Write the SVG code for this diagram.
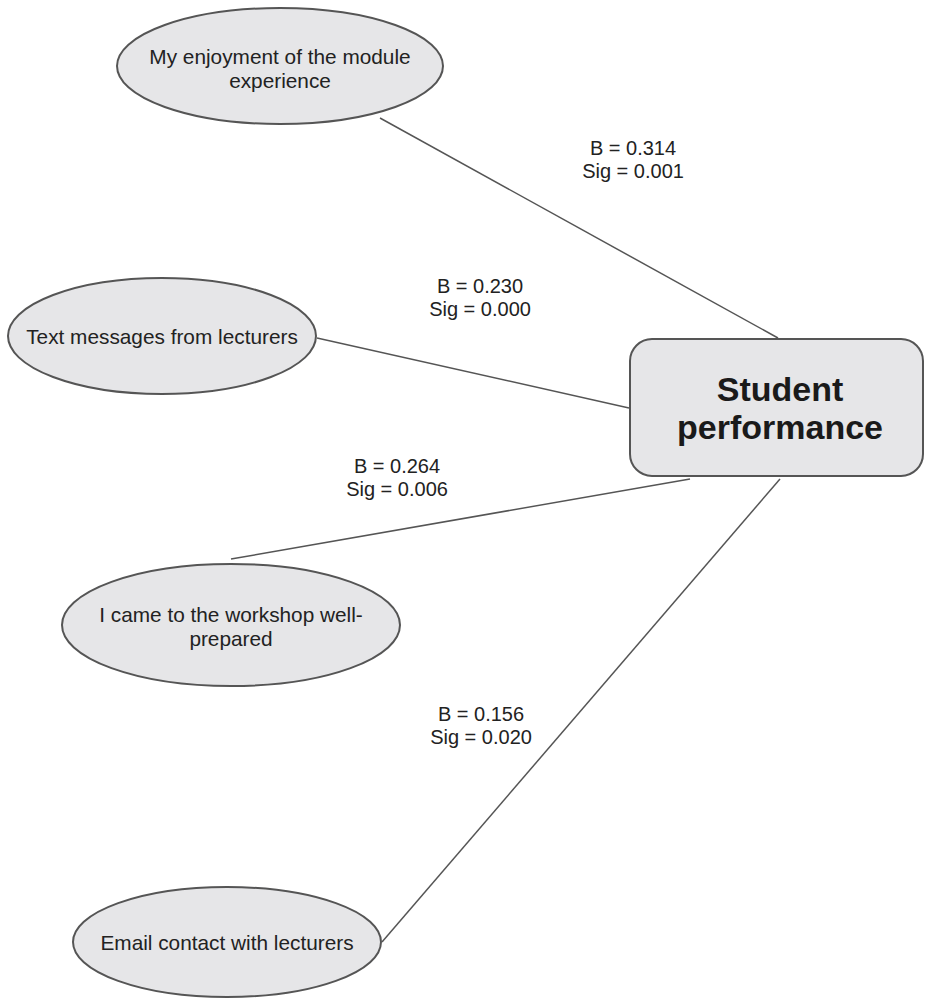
<svg xmlns="http://www.w3.org/2000/svg" width="925" height="998" viewBox="0 0 925 998">
<style>
.node{fill:#e6e6e8;stroke:#555;stroke-width:2}
.t{font-family:"Liberation Sans",Arial,sans-serif;font-size:20.8px;fill:#222;text-anchor:middle}
.b{font-family:"Liberation Sans",Arial,sans-serif;font-size:34px;font-weight:bold;fill:#1a1a1a;text-anchor:middle}
.lbl{font-family:"Liberation Sans",Arial,sans-serif;font-size:20px;fill:#222;text-anchor:middle}
.c{stroke:#555;stroke-width:1.5;fill:none}
</style>
<rect width="925" height="998" fill="#fff"/>
<g id="connectors">
<line class="c" x1="380" y1="118" x2="778" y2="338"/>
<line class="c" x1="317" y1="338" x2="629" y2="408"/>
<line class="c" x1="231" y1="559" x2="690" y2="479"/>
<line class="c" x1="382" y1="942" x2="780" y2="479"/>
<text class="lbl" x="633" y="155">B = 0.314</text>
<text class="lbl" x="633" y="178">Sig = 0.001</text>
<text class="lbl" x="480" y="293">B = 0.230</text>
<text class="lbl" x="480" y="316">Sig = 0.000</text>
<text class="lbl" x="397" y="473">B = 0.264</text>
<text class="lbl" x="397" y="496">Sig = 0.006</text>
<text class="lbl" x="481" y="721">B = 0.156</text>
<text class="lbl" x="481" y="744">Sig = 0.020</text>
</g>
<g id="n1">
<ellipse class="node" cx="280" cy="66" rx="163" ry="58"/>
<text class="t" x="280" y="64">My enjoyment of the module</text>
<text class="t" x="280" y="88">experience</text>
</g>
<g id="n2">
<ellipse class="node" cx="162" cy="336" rx="154" ry="58"/>
<text class="t" x="162" y="344">Text messages from lecturers</text>
</g>
<g id="n3">
<ellipse class="node" cx="231" cy="625" rx="169" ry="61"/>
<text class="t" x="231" y="622">I came to the workshop well-</text>
<text class="t" x="231" y="646">prepared</text>
</g>
<g id="n4">
<ellipse class="node" cx="227" cy="942" rx="154" ry="55"/>
<text class="t" x="227" y="950">Email contact with lecturers</text>
</g>
<g id="target">
<rect class="node" x="630" y="339" width="293" height="137" rx="22"/>
<text class="b" x="780" y="401">Student</text>
<text class="b" x="780" y="439">performance</text>
</g>
</svg>
